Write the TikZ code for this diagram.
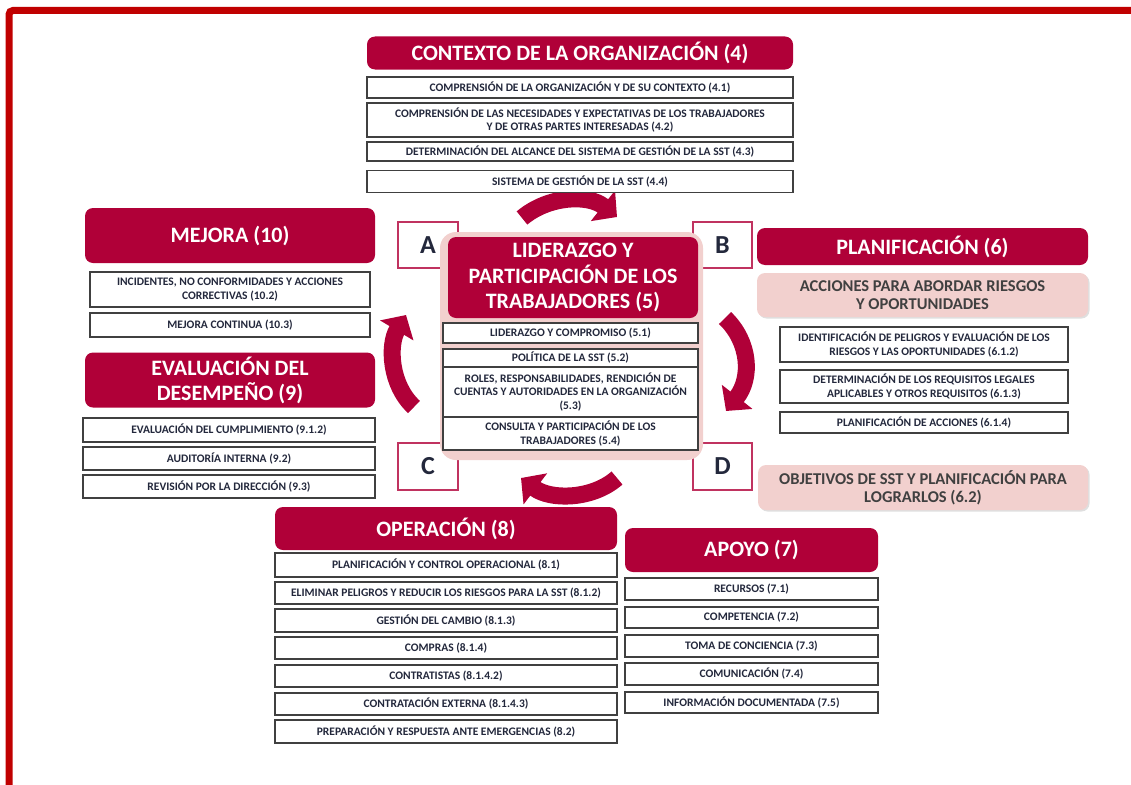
\documentclass[tikz,border=0pt]{standalone}
\usepackage{fontspec}
\setmainfont{Carlito}
\usetikzlibrary{arrows.meta,shadows}
\definecolor{granate}{RGB}{176,0,56}
\definecolor{rosa}{RGB}{242,208,206}
\definecolor{marco}{RGB}{192,0,0}
\definecolor{texto}{RGB}{35,40,60}
\tikzset{
  titulo/.style={fill=granate, rounded corners=8pt, text=white, font=\bfseries\fontsize{22}{25}\selectfont, align=center, inner sep=0pt},
  apartado/.style={draw=black!75, line width=1.3pt, fill=white, text=texto, font=\bfseries\fontsize{11.5}{13.5}\selectfont, align=center, inner sep=0pt},
  rosado/.style={fill=rosa, rounded corners=8pt, text=black!75, font=\bfseries\fontsize{16.5}{18}\selectfont, align=center, inner sep=0pt, drop shadow={opacity=0.25, shadow xshift=1.5pt, shadow yshift=-1.5pt}},
  letra/.style={draw=granate!80, line width=1.5pt, fill=white, text=texto, font=\bfseries\fontsize{26}{28}\selectfont, inner sep=0pt},
  ciclo/.style={granate, line width=17pt, -{Triangle[length=18pt,width=38pt]}},
}

\begin{document}
\begin{tikzpicture}[x=1pt,y=-1pt]
\useasboundingbox (0,0) rectangle (1131,784);
\clip (0,0) rectangle (1131,784);
\draw[marco, line width=7pt, rounded corners=4pt] (9,810) -- (9,10.5) -- (1150,10.5);
% letras del ciclo
\node[letra, minimum width=60pt, minimum height=46pt] (A) at (428,245) {A};
\node[letra, minimum width=59pt, minimum height=46pt] (B) at (722.5,245) {B};
\node[letra, minimum width=60pt, minimum height=47pt] (C) at (428,466.5) {C};
\node[letra, minimum width=59pt, minimum height=47pt] (D) at (722.5,466.5) {D};
% liderazgo
\fill[rosa, rounded corners=16pt] (440,232) rectangle (703,460);
\node[titulo, font=\bfseries\fontsize{22}{25.5}\selectfont, minimum width=250pt, minimum height=81pt] (liderazgo) at (573,277.5) {LIDERAZGO Y\\PARTICIPACIÓN DE LOS\\TRABAJADORES (5)};
\node[apartado, minimum width=255pt, minimum height=20pt] (l51) at (570.5,333) {LIDERAZGO Y COMPROMISO (5.1)};
\node[apartado, minimum width=255pt, minimum height=18pt] (l52) at (570.5,358) {POLÍTICA DE LA SST (5.2)};
\node[apartado, minimum width=255pt, minimum height=50pt] (l53) at (570.5,392) {ROLES, RESPONSABILIDADES, RENDICIÓN DE\\CUENTAS Y AUTORIDADES EN LA ORGANIZACIÓN\\(5.3)};
\node[apartado, minimum width=255pt, minimum height=33pt] (l54) at (570.5,433.5) {CONSULTA Y PARTICIPACIÓN DE LOS\\TRABAJADORES (5.4)};
% flechas
\coordinate (f1a) at (522,218); \coordinate (f1b) at (617,217);
\coordinate (f2a) at (725,318); \coordinate (f2b) at (726,411);
\coordinate (f3a) at (617,478); \coordinate (f3b) at (521,478);
\coordinate (f4a) at (414,407); \coordinate (f4b) at (406,315);
\draw[ciclo] (f1a) .. controls (548,196) and (588,194) .. (f1b);
\draw[ciclo] (f2a) .. controls (750,342) and (752,378) .. (f2b);
\draw[ciclo] (f3a) .. controls (592,500) and (550,500) .. (f3b);
\draw[ciclo] (f4a) .. controls (390,385) and (388,345) .. (f4b);
% contexto
\node[titulo, minimum width=426pt, minimum height=33pt] (contexto) at (580,53) {CONTEXTO DE LA ORGANIZACIÓN (4)};
\node[apartado, minimum width=426pt, minimum height=21pt] (c41) at (580,87.5) {COMPRENSIÓN DE LA ORGANIZACIÓN Y DE SU CONTEXTO (4.1)};
\node[apartado, minimum width=426pt, minimum height=34pt] (c42) at (580,120) {COMPRENSIÓN DE LAS NECESIDADES Y EXPECTATIVAS DE LOS TRABAJADORES\\Y DE OTRAS PARTES INTERESADAS (4.2)};
\node[apartado, minimum width=426pt, minimum height=19pt] (c43) at (580,151.5) {DETERMINACIÓN DEL ALCANCE DEL SISTEMA DE GESTIÓN DE LA SST (4.3)};
\node[apartado, minimum width=426pt, minimum height=22pt] (c44) at (580,181.5) {SISTEMA DE GESTIÓN DE LA SST (4.4)};
% mejora
\node[titulo, minimum width=290pt, minimum height=55pt] (mejora) at (230,235.5) {MEJORA (10)};
\node[apartado, minimum width=280pt, minimum height=35pt] (m102) at (230,289.5) {INCIDENTES, NO CONFORMIDADES Y ACCIONES\\CORRECTIVAS (10.2)};
\node[apartado, minimum width=280pt, minimum height=24pt] (m103) at (230,325) {MEJORA CONTINUA (10.3)};
% evaluacion
\node[titulo, minimum width=290pt, minimum height=55pt] (evaluacion) at (230,380) {EVALUACIÓN DEL\\DESEMPEÑO (9)};
\node[apartado, minimum width=292pt, minimum height=24pt] (e912) at (229,430) {EVALUACIÓN DEL CUMPLIMIENTO (9.1.2)};
\node[apartado, minimum width=292pt, minimum height=23pt] (e92) at (229,458.5) {AUDITORÍA INTERNA (9.2)};
\node[apartado, minimum width=292pt, minimum height=23pt] (e93) at (229,486.5) {REVISIÓN POR LA DIRECCIÓN (9.3)};
% planificacion
\node[titulo, minimum width=331pt, minimum height=37pt] (planif) at (922.5,246.5) {PLANIFICACIÓN (6)};
\node[rosado, minimum width=331pt, minimum height=44pt] (acciones) at (922.5,295) {ACCIONES PARA ABORDAR RIESGOS\\Y OPORTUNIDADES};
\node[apartado, minimum width=288pt, minimum height=35pt] (p612) at (924,344.5) {IDENTIFICACIÓN DE PELIGROS Y EVALUACIÓN DE LOS\\RIESGOS Y LAS OPORTUNIDADES (6.1.2)};
\node[apartado, minimum width=288pt, minimum height=33pt] (p613) at (924,386.5) {DETERMINACIÓN DE LOS REQUISITOS LEGALES\\APLICABLES Y OTROS REQUISITOS (6.1.3)};
\node[apartado, minimum width=288pt, minimum height=21pt] (p614) at (924,422.5) {PLANIFICACIÓN DE ACCIONES (6.1.4)};
\node[rosado, minimum width=330pt, minimum height=45pt] (objetivos) at (923,487.5) {OBJETIVOS DE SST Y PLANIFICACIÓN PARA\\LOGRARLOS (6.2)};
% operacion
\node[titulo, minimum width=342pt, minimum height=43pt] (operacion) at (446,528.5) {OPERACIÓN (8)};
\node[apartado, minimum width=342pt, minimum height=24pt] (o81) at (446,565) {PLANIFICACIÓN Y CONTROL OPERACIONAL (8.1)};
\node[apartado, minimum width=342pt, minimum height=22pt] (o812) at (446,593) {ELIMINAR PELIGROS Y REDUCIR LOS RIESGOS PARA LA SST (8.1.2)};
\node[apartado, minimum width=342pt, minimum height=23pt] (o813) at (446,620.5) {GESTIÓN DEL CAMBIO (8.1.3)};
\node[apartado, minimum width=342pt, minimum height=22pt] (o814) at (446,648) {COMPRAS (8.1.4)};
\node[apartado, minimum width=342pt, minimum height=22pt] (o8142) at (446,676) {CONTRATISTAS (8.1.4.2)};
\node[apartado, minimum width=342pt, minimum height=22pt] (o8143) at (446,704) {CONTRATACIÓN EXTERNA (8.1.4.3)};
\node[apartado, minimum width=342pt, minimum height=23pt] (o82) at (446,731.5) {PREPARACIÓN Y RESPUESTA ANTE EMERGENCIAS (8.2)};
% apoyo
\node[titulo, minimum width=253pt, minimum height=44pt] (apoyo) at (751.5,550) {APOYO (7)};
\node[apartado, minimum width=253pt, minimum height=22pt] (a71) at (751.5,589) {RECURSOS (7.1)};
\node[apartado, minimum width=253pt, minimum height=21pt] (a72) at (751.5,617.5) {COMPETENCIA (7.2)};
\node[apartado, minimum width=253pt, minimum height=22pt] (a73) at (751.5,646) {TOMA DE CONCIENCIA (7.3)};
\node[apartado, minimum width=253pt, minimum height=22pt] (a74) at (751.5,674) {COMUNICACIÓN (7.4)};
\node[apartado, minimum width=253pt, minimum height=21pt] (a75) at (751.5,702.5) {INFORMACIÓN DOCUMENTADA (7.5)};
\end{tikzpicture}
\end{document}
